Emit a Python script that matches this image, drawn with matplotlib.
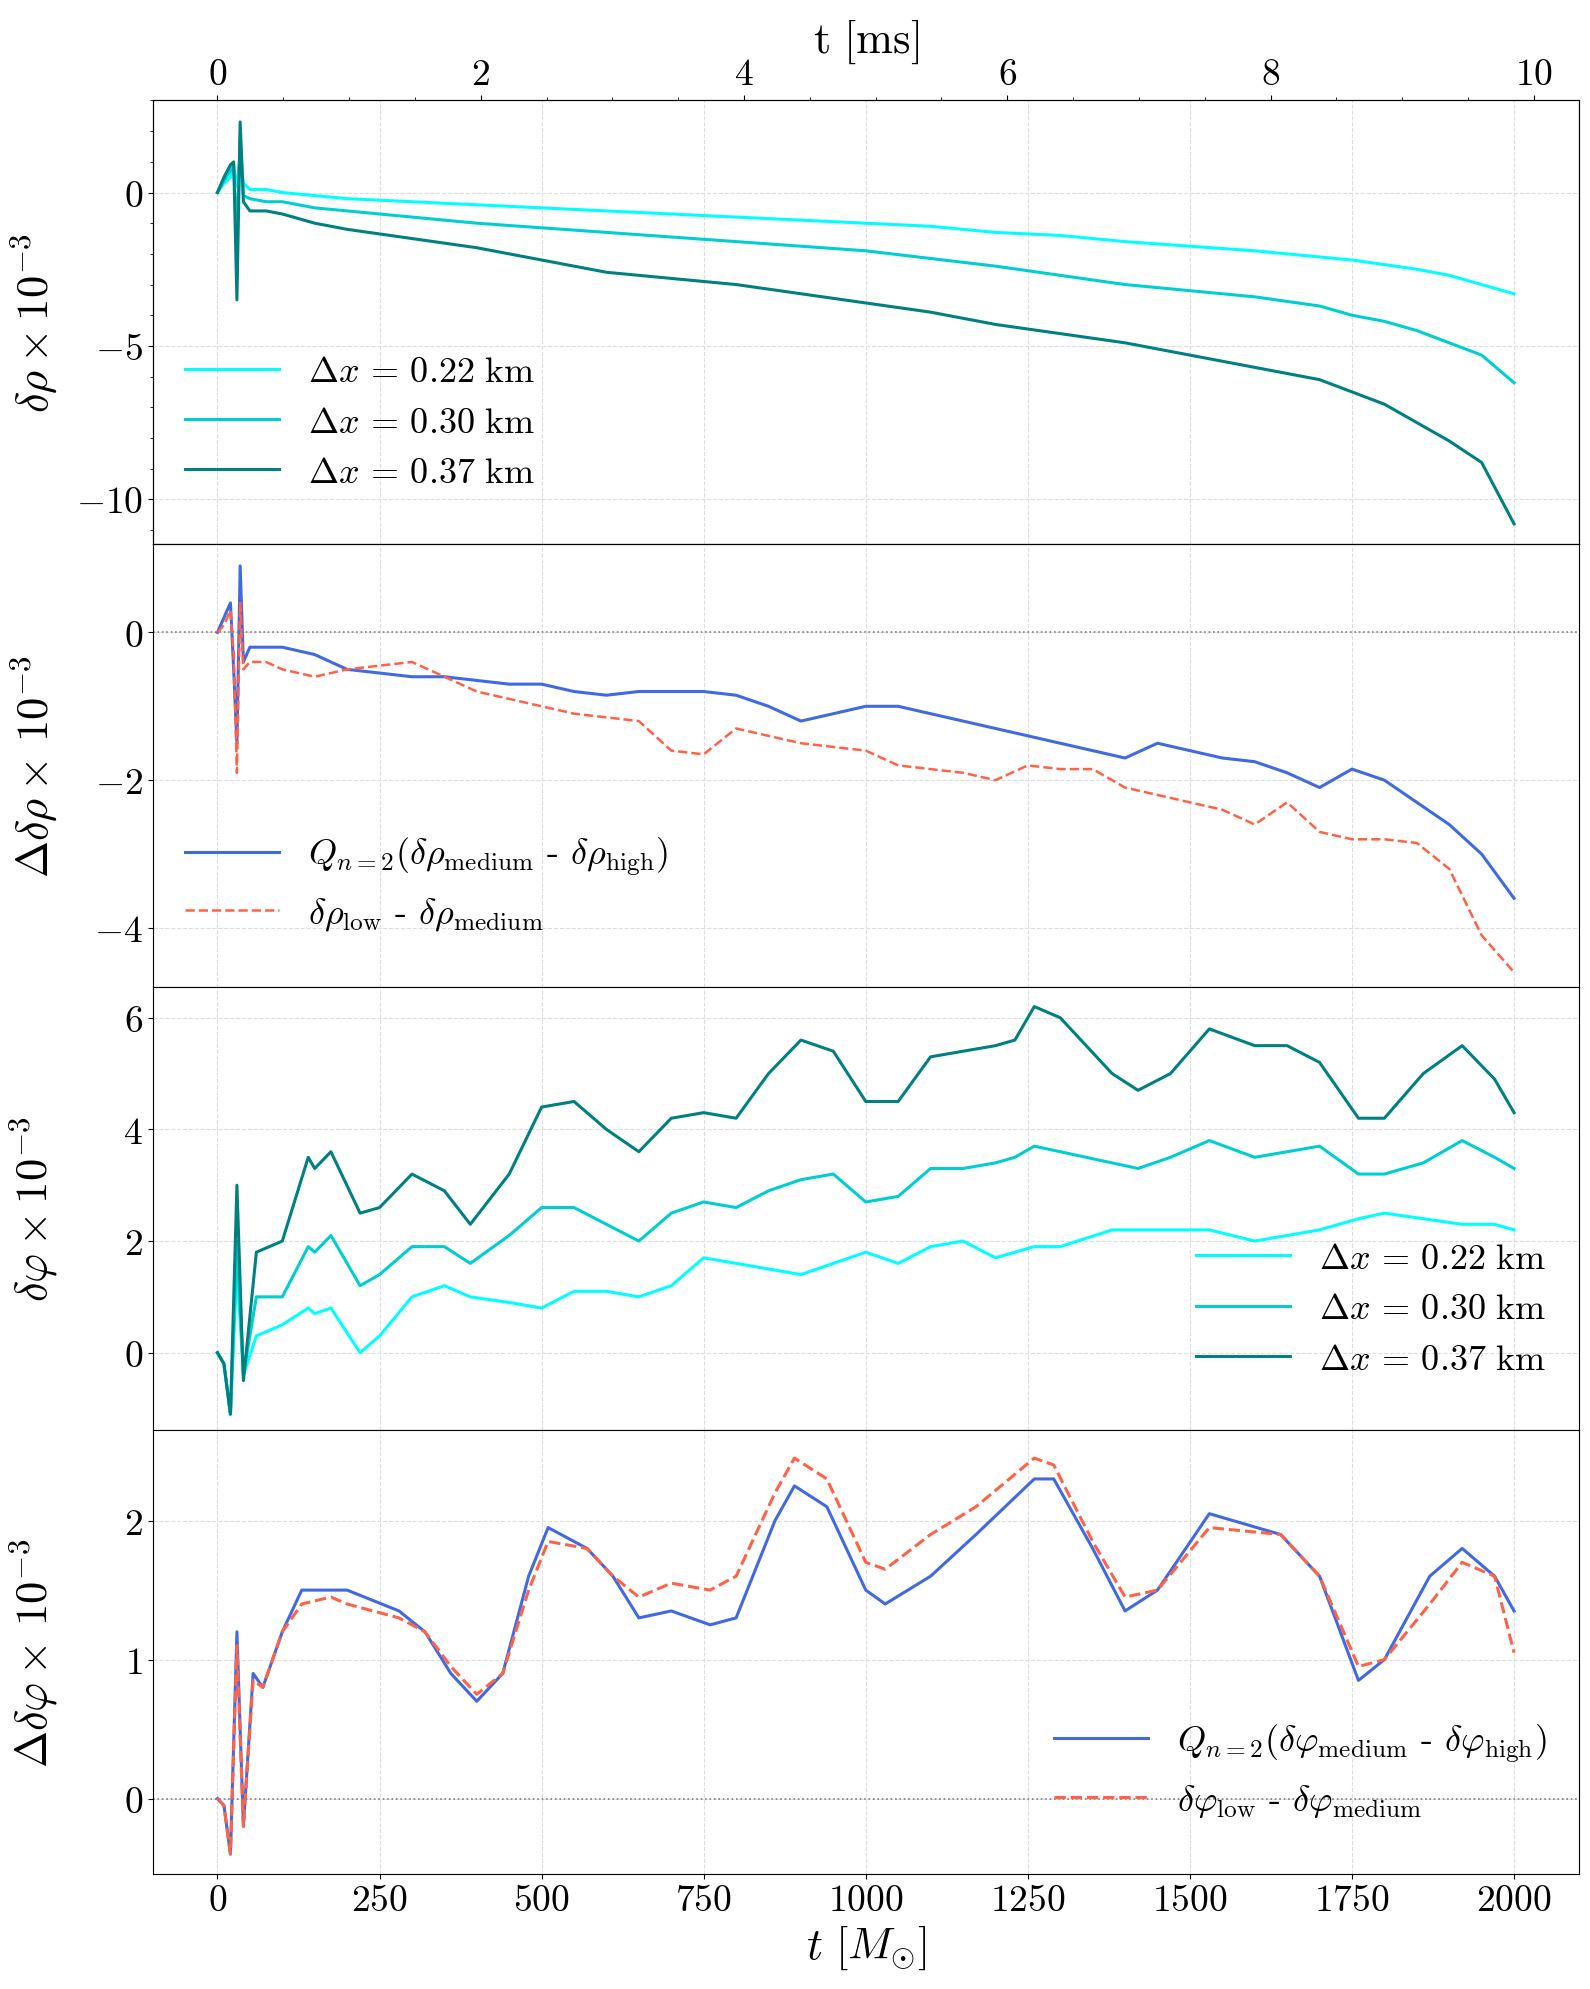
import numpy as np
import matplotlib.pyplot as plt

plt.rcParams['mathtext.fontset'] = 'cm'
plt.rcParams['font.family'] = 'serif'
plt.rcParams['font.serif'] = ['cmr10', 'DejaVu Serif']
plt.rcParams['axes.formatter.use_mathtext'] = True

# ---- panel 1: delta rho (x1e-3)
t1 = [0, 10, 20, 25, 30, 35, 40, 50, 75, 100, 150, 200, 300, 400, 500, 600, 700, 800, 900, 1000,
      1100, 1200, 1300, 1400, 1500, 1600, 1700, 1750, 1800, 1850, 1900, 1950, 2000]
rho_022 = [0, 0.3, 0.5, 0.8, 0.2, 1.2, 0.3, 0.1, 0.1, 0, -0.1, -0.2, -0.3, -0.4, -0.5, -0.6, -0.7, -0.8,
           -0.9, -1.0, -1.1, -1.3, -1.4, -1.6, -1.75, -1.9, -2.1, -2.2, -2.35, -2.5, -2.7, -3.0, -3.3]
rho_030 = [0, 0.4, 0.7, 0.9, -1.5, 1.8, -0.1, -0.2, -0.3, -0.3, -0.5, -0.6, -0.8, -1.0, -1.15, -1.3, -1.45,
           -1.6, -1.75, -1.9, -2.15, -2.4, -2.7, -3.0, -3.2, -3.4, -3.7, -4.0, -4.2, -4.5, -4.9, -5.3, -6.2]
rho_037 = [0, 0.5, 0.9, 1.0, -3.5, 2.3, -0.3, -0.6, -0.6, -0.7, -1.0, -1.2, -1.5, -1.8, -2.2, -2.6, -2.8,
           -3.0, -3.3, -3.6, -3.9, -4.3, -4.6, -4.9, -5.3, -5.7, -6.1, -6.5, -6.9, -7.5, -8.1, -8.8, -10.8]

# ---- panel 2: convergence of delta rho
t2 = [0, 10, 20, 25, 30, 35, 40, 50, 75, 100, 150, 200, 250, 300, 350, 400, 450, 500, 550, 600, 650, 700,
      750, 800, 850, 900, 950, 1000, 1050, 1100, 1150, 1200, 1250, 1300, 1350, 1400, 1450, 1500, 1550,
      1600, 1650, 1700, 1750, 1800, 1850, 1900, 1950, 2000]
drho_q = [0, 0.2, 0.4, -0.5, -1.5, 0.9, -0.4, -0.2, -0.2, -0.2, -0.3, -0.5, -0.55, -0.6, -0.6, -0.65,
          -0.7, -0.7, -0.8, -0.85, -0.8, -0.8, -0.8, -0.85, -1.0, -1.2, -1.1, -1.0, -1.0, -1.1, -1.2,
          -1.3, -1.4, -1.5, -1.6, -1.7, -1.5, -1.6, -1.7, -1.75, -1.9, -2.1, -1.85, -2.0, -2.3, -2.6,
          -3.0, -3.6]
drho_lm = [0, 0.1, 0.3, -0.3, -1.9, 0.4, -0.5, -0.4, -0.4, -0.5, -0.6, -0.5, -0.45, -0.4, -0.6, -0.8,
           -0.9, -1.0, -1.1, -1.15, -1.2, -1.6, -1.65, -1.3, -1.4, -1.5, -1.55, -1.6, -1.8, -1.85, -1.9,
           -2.0, -1.8, -1.85, -1.85, -2.1, -2.2, -2.3, -2.4, -2.6, -2.3, -2.7, -2.8, -2.8, -2.85, -3.2,
           -4.1, -4.6]

# ---- panel 3: delta phi
t3 = [0, 10, 20, 30, 40, 60, 100, 140, 150, 175, 220, 250, 300, 350, 390, 450, 500, 550, 600, 650, 700,
      750, 800, 850, 900, 950, 1000, 1050, 1100, 1150, 1200, 1230, 1260, 1300, 1380, 1420, 1470, 1530,
      1600, 1650, 1700, 1760, 1800, 1860, 1920, 1970, 2000]
phi_037 = [0, -0.2, -1.1, 3.0, -0.5, 1.8, 2.0, 3.5, 3.3, 3.6, 2.5, 2.6, 3.2, 2.9, 2.3, 3.2, 4.4, 4.5,
           4.0, 3.6, 4.2, 4.3, 4.2, 5.0, 5.6, 5.4, 4.5, 4.5, 5.3, 5.4, 5.5, 5.6, 6.2, 6.0, 5.0, 4.7,
           5.0, 5.8, 5.5, 5.5, 5.2, 4.2, 4.2, 5.0, 5.5, 4.9, 4.3]
phi_030 = [0, -0.2, -1.1, 2.0, -0.4, 1.0, 1.0, 1.9, 1.8, 2.1, 1.2, 1.4, 1.9, 1.9, 1.6, 2.1, 2.6, 2.6,
           2.3, 2.0, 2.5, 2.7, 2.6, 2.9, 3.1, 3.2, 2.7, 2.8, 3.3, 3.3, 3.4, 3.5, 3.7, 3.6, 3.4, 3.3,
           3.5, 3.8, 3.5, 3.6, 3.7, 3.2, 3.2, 3.4, 3.8, 3.5, 3.3]
phi_022 = [0, -0.2, -1.1, 1.5, -0.4, 0.3, 0.5, 0.8, 0.7, 0.8, 0.0, 0.3, 1.0, 1.2, 1.0, 0.9, 0.8, 1.1,
           1.1, 1.0, 1.2, 1.7, 1.6, 1.5, 1.4, 1.6, 1.8, 1.6, 1.9, 2.0, 1.7, 1.8, 1.9, 1.9, 2.2, 2.2,
           2.2, 2.2, 2.0, 2.1, 2.2, 2.4, 2.5, 2.4, 2.3, 2.3, 2.2]

# ---- panel 4: convergence of delta phi
t4 = [0, 10, 20, 30, 40, 55, 70, 100, 130, 175, 200, 280, 320, 360, 400, 440, 480, 510, 570, 610, 650,
      700, 760, 800, 860, 890, 940, 1000, 1030, 1100, 1170, 1260, 1290, 1350, 1400, 1450, 1530, 1640,
      1700, 1760, 1800, 1870, 1920, 1970, 2000]
dphi_q = [0, -0.05, -0.4, 1.2, -0.2, 0.9, 0.8, 1.2, 1.5, 1.5, 1.5, 1.35, 1.2, 0.9, 0.7, 0.9, 1.6, 1.95,
          1.8, 1.6, 1.3, 1.35, 1.25, 1.3, 2.0, 2.25, 2.1, 1.5, 1.4, 1.6, 1.9, 2.3, 2.3, 1.8, 1.35, 1.5,
          2.05, 1.9, 1.6, 0.85, 1.0, 1.6, 1.8, 1.6, 1.35]
dphi_lm = [0, -0.05, -0.4, 1.1, -0.2, 0.85, 0.8, 1.2, 1.4, 1.45, 1.4, 1.3, 1.2, 0.95, 0.75, 0.9, 1.5,
           1.85, 1.8, 1.6, 1.45, 1.55, 1.5, 1.6, 2.2, 2.45, 2.3, 1.7, 1.65, 1.9, 2.1, 2.45, 2.4, 1.85,
           1.45, 1.5, 1.95, 1.9, 1.6, 0.95, 1.0, 1.4, 1.7, 1.6, 1.05]

c22, c30, c37 = '#00FFFF', '#00CED1', '#008080'
blue, red = 'royalblue', 'tomato'

fig, axs = plt.subplots(4, 1, sharex=True, figsize=(15.9, 19.9), dpi=100)
fig.subplots_adjust(left=0.096, right=0.993, top=0.949, bottom=0.058, hspace=0)

lw = 2.2
leg = dict(fontsize=26, frameon=False, handlelength=2.6, labelspacing=0.5)
ax = axs[0]
ax.plot(t1, rho_022, color=c22, lw=lw, label=r'$\Delta x\,=\,0.22\ \mathrm{km}$')
ax.plot(t1, rho_030, color=c30, lw=lw, label=r'$\Delta x\,=\,0.30\ \mathrm{km}$')
ax.plot(t1, rho_037, color=c37, lw=lw, label=r'$\Delta x\,=\,0.37\ \mathrm{km}$')
ax.set_ylim(-11.45, 3.0)
ax.set_yticks([0, -5, -10])
ax.set_ylabel(r'$\delta\rho\times10^{-3}$', fontsize=32)
ax.legend(loc='lower left', bbox_to_anchor=(0.0, 0.05), **leg)

ax = axs[1]
ax.plot(t2, drho_q, color=blue, lw=lw,
        label=r'$Q_{n=2}(\delta\rho_{\mathrm{medium}}$ - $\delta\rho_{\mathrm{high}})$')
ax.plot(t2, drho_lm, color=red, lw=1.8, ls='--',
        label=r'$\delta\rho_{\mathrm{low}}$ - $\delta\rho_{\mathrm{medium}}$')
ax.axhline(0, color='gray', ls=':', lw=1.2)
ax.set_ylim(-4.8, 1.2)
ax.set_yticks([0, -2, -4])
ax.set_ylabel(r'$\Delta\delta\rho\times\,10^{-3}$', fontsize=32)
ax.legend(loc='lower left', bbox_to_anchor=(0.0, 0.05), **leg)

ax = axs[2]
ax.plot(t3, phi_022, color=c22, lw=lw, label=r'$\Delta x\,=\,0.22\ \mathrm{km}$')
ax.plot(t3, phi_030, color=c30, lw=lw, label=r'$\Delta x\,=\,0.30\ \mathrm{km}$')
ax.plot(t3, phi_037, color=c37, lw=lw, label=r'$\Delta x\,=\,0.37\ \mathrm{km}$')
ax.set_ylim(-1.39, 6.55)
ax.set_yticks([0, 2, 4, 6])
ax.set_ylabel(r'$\delta\varphi\times10^{-3}$', fontsize=32)
ax.legend(loc='lower right', bbox_to_anchor=(1.0, 0.05), **leg)

ax = axs[3]
ax.plot(t4, dphi_q, color=blue, lw=lw,
        label=r'$Q_{n=2}(\delta\varphi_{\mathrm{medium}}$ - $\delta\varphi_{\mathrm{high}})$')
ax.plot(t4, dphi_lm, color=red, lw=2.2, ls='--',
        label=r'$\delta\varphi_{\mathrm{low}}$ - $\delta\varphi_{\mathrm{medium}}$')
ax.axhline(0, color='gray', ls=':', lw=1.2)
ax.set_ylim(-0.54, 2.65)
ax.set_yticks([0, 1, 2])
ax.set_ylabel(r'$\Delta\delta\varphi\times\,10^{-3}$', fontsize=32)
ax.legend(loc='lower right', bbox_to_anchor=(1.0, 0.05), **leg)
ax.set_xlabel(r'$t\ [M_{\odot}]$', fontsize=32)

for a in axs:
    a.grid(True, ls='--', color='#dddddd', lw=0.8)
    a.tick_params(labelsize=27)
    a.yaxis.set_label_coords(-0.065, 0.5)
axs[3].set_xlim(-100, 2100)
axs[3].set_xticks(np.arange(0, 2001, 250))

ms = 4.925e-3
top = axs[0].twiny()
top.set_xlim(-100 * ms, 2100 * ms)
top.set_xticks(np.arange(0, 11, 2))
top.minorticks_on()
top.tick_params(labelsize=27)
top.set_xlabel(r'$\mathrm{t\ [ms]}$', fontsize=32)

fig.savefig('out.png')
